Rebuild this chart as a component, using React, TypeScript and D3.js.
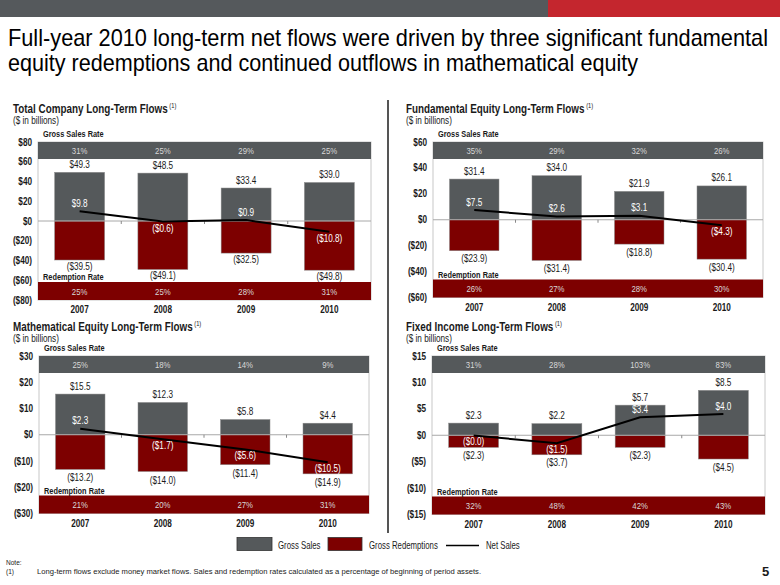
import React from 'react';
import * as d3 from 'd3';

// ---------- DATA ----------
const years = ['2007', '2008', '2009', '2010'];

const totalGross = [49.3, 48.5, 33.4, 39.0];
const totalRedemptions = [-39.5, -49.1, -32.5, -49.8];
const totalNet = [9.8, -0.6, 0.9, -10.8];
const totalGrossRate = ['31%', '25%', '29%', '25%'];
const totalRedRate = ['25%', '25%', '28%', '31%'];
const totalTicks = [80, 60, 40, 20, 0, -20, -40, -60, -80];

const fundGross = [31.4, 34.0, 21.9, 26.1];
const fundRedemptions = [-23.9, -31.4, -18.8, -30.4];
const fundNet = [7.5, 2.6, 3.1, -4.3];
const fundGrossRate = ['35%', '29%', '32%', '26%'];
const fundRedRate = ['26%', '27%', '28%', '30%'];
const fundTicks = [60, 40, 20, 0, -20, -40, -60];

const mathGross = [15.5, 12.3, 5.8, 4.4];
const mathRedemptions = [-13.2, -14.0, -11.4, -14.9];
const mathNet = [2.3, -1.7, -5.6, -10.5];
const mathGrossRate = ['25%', '18%', '14%', '9%'];
const mathRedRate = ['21%', '20%', '27%', '31%'];
const mathTicks = [30, 20, 10, 0, -10, -20, -30];

const fixedGross = [2.3, 2.2, 5.7, 8.5];
const fixedRedemptions = [-2.3, -3.7, -2.3, -4.5];
const fixedNet = [-0.04, -1.5, 3.4, 4.0];
const fixedGrossRate = ['31%', '28%', '103%', '83%'];
const fixedRedRate = ['32%', '48%', '42%', '43%'];
const fixedTicks = [15, 10, 5, 0, -5, -10, -15];

const titleLines = [
  'Full-year 2010 long-term net flows were driven by three significant fundamental',
  'equity redemptions and continued outflows in mathematical equity',
];
const legendLabels = ['Gross Sales', 'Gross Redemptions', 'Net Sales'];
const noteText =
  'Long-term flows exclude money market flows.  Sales and redemption rates calculated as a percentage of beginning of period assets.';

// ---------- STYLE ----------
const FONT = 'Liberation Sans, Arial, sans-serif';
const GRAY = '#55595b';
const RED = '#7d0000';
const SX = 0.82;

const fmtVal = (v: number) => (v >= 0 ? `$${v.toFixed(1)}` : `($${Math.abs(v).toFixed(1)})`);
const fmtTick = (v: number) => (v >= 0 ? `$${v}` : `($${Math.abs(v)})`);

function T(props: any) {
  const { x, y, children, anchor = 'start', size = 10, weight = 'normal', fill = '#1a1a1a', sx = SX, len } = props;
  return (
    <text
      transform={`translate(${x},${y}) scale(${sx},1)`}
      textAnchor={anchor}
      fontSize={size}
      fontWeight={weight}
      fill={fill}
      fontFamily={FONT}
      textLength={len}
      lengthAdjust={len ? 'spacingAndGlyphs' : undefined}
    >
      {children}
    </text>
  );
}

type PanelProps = {
  title: string;
  gross: number[];
  red: number[];
  net: number[];
  grossRate: string[];
  redRate: string[];
  ticks: number[];
  titleX: number;
  titleY: number;
  left: number;
  right: number;
  top: number;
  bottom: number;
  redOffset: number;
};

function Panel(p: PanelProps) {
  const x = d3.scaleBand<string>().domain(years).range([p.left, p.right]).paddingInner(0.4).paddingOuter(0.2);
  const ext = d3.extent(p.ticks) as [number, number];
  const y = d3.scaleLinear().domain(ext).range([p.bottom, p.top]);
  const step = x.step();
  const bw = x.bandwidth();
  const cx = (yr: string) => (x(yr) as number) + bw / 2;
  const topBandH = 17;
  const botBandH = 18;
  const y0 = y(0);
  const line = d3
    .line<number>()
    .x((_, i) => cx(years[i]))
    .y((d) => y(d));

  return (
    <g>
      <T x={p.titleX} y={p.titleY} size={13} weight="bold" sx={0.76}>
        {p.title}
        <tspan fontSize={7.5} fontWeight="normal" dy={-5}>
          {' '}(1)
        </tspan>
      </T>
      <T x={p.titleX} y={p.titleY + 11} size={10}>
        ($ in billions)
      </T>

      {/* frame */}
      <rect x={p.left} y={p.top} width={p.right - p.left} height={p.bottom - p.top} fill="#fff" stroke="#c8c8c8" strokeWidth={1} />

      {/* rate bands */}
      <rect x={p.left} y={p.top} width={p.right - p.left} height={topBandH} fill={GRAY} />
      <rect x={p.left} y={p.bottom - botBandH} width={p.right - p.left} height={botBandH} fill={RED} />
      <T x={p.left + 5} y={p.top - 5} size={9} weight="bold">
        Gross Sales Rate
      </T>
      <T x={p.left + 5} y={p.bottom - botBandH - 2} size={9} weight="bold">
        Redemption Rate
      </T>
      {years.map((yr, i) => (
        <g key={'r' + yr}>
          <T x={cx(yr)} y={p.top + topBandH / 2 + 3.5} anchor="middle" size={9.5} fill="#d8d8d8">
            {p.grossRate[i]}
          </T>
          <T x={cx(yr)} y={p.bottom - botBandH / 2 + 3.5} anchor="middle" size={9.5} fill="#d8d8d8">
            {p.redRate[i]}
          </T>
        </g>
      ))}

      {/* y axis labels */}
      {p.ticks.map((t) => (
        <T key={'t' + t} x={p.left - 6} y={y(t) + 3.5} anchor="end" size={10} weight="bold">
          {fmtTick(t)}
        </T>
      ))}

      {/* bars */}
      {years.map((yr, i) => (
        <g key={'b' + yr}>
          <rect x={x(yr)} y={y(p.gross[i])} width={bw} height={y0 - y(p.gross[i])} fill={GRAY} stroke="#8a8a8a" strokeWidth={0.5} />
          <rect x={x(yr)} y={y0} width={bw} height={y(p.red[i]) - y0} fill={RED} stroke="#8a8a8a" strokeWidth={0.5} />
        </g>
      ))}

      {/* zero line */}
      <line x1={p.left} x2={p.right} y1={y0} y2={y0} stroke="#a8a8a8" strokeWidth={1} />
      {years.slice(1).map((yr) => (
        <line key={'z' + yr} x1={(x(yr) as number) - (step - bw) / 2} x2={(x(yr) as number) - (step - bw) / 2} y1={y0} y2={y0 + 3} stroke="#888" strokeWidth={1} />
      ))}

      {/* net line */}
      <path d={line(p.net) || ''} fill="none" stroke="#000" strokeWidth={2} />

      {/* value labels */}
      {years.map((yr, i) => (
        <g key={'l' + yr}>
          <T x={cx(yr)} y={y(p.gross[i]) - 4.5} anchor="middle" size={10}>
            {fmtVal(p.gross[i])}
          </T>
          <T x={cx(yr)} y={y(p.red[i]) + p.redOffset} anchor="middle" size={10}>
            {fmtVal(p.red[i])}
          </T>
          <T x={cx(yr)} y={p.net[i] >= 0 ? y(p.net[i]) - 4.5 : y(p.net[i]) + 10} anchor="middle" size={10} fill="#fff">
            {fmtVal(p.net[i])}
          </T>
          <T x={cx(yr)} y={p.bottom + 13} anchor="middle" size={10} weight="bold">
            {yr}
          </T>
        </g>
      ))}
    </g>
  );
}

export default function App() {
  const TSX = 0.8;
  return (
    <svg width={780} height={585} style={{ position: 'absolute', left: 0, top: 0, background: '#fff' }}>
      <rect x={0} y={0} width={780} height={585} fill="#fff" />
      {/* header bar */}
      <rect x={0} y={0} width={548} height={17} fill="#55595c" />
      <rect x={548} y={0} width={232} height={17} fill="#c4262e" />

      <T x={8} y={46} size={23} fill="#000" sx={TSX} len={760 / TSX}>
        {titleLines[0]}
      </T>
      <T x={8} y={71} size={23} fill="#000" sx={TSX} len={630 / TSX}>
        {titleLines[1]}
      </T>

      {/* separator */}
      <line x1={388} x2={388} y1={100} y2={533} stroke="#555" strokeWidth={2} />

      <Panel
        title="Total Company Long-Term Flows"
        gross={totalGross}
        red={totalRedemptions}
        net={totalNet}
        grossRate={totalGrossRate}
        redRate={totalRedRate}
        ticks={totalTicks}
        titleX={13}
        titleY={113}
        left={38}
        right={371}
        top={142}
        bottom={300}
        redOffset={9.5}
      />
      <Panel
        title="Fundamental Equity Long-Term Flows"
        gross={fundGross}
        red={fundRedemptions}
        net={fundNet}
        grossRate={fundGrossRate}
        redRate={fundRedRate}
        ticks={fundTicks}
        titleX={406}
        titleY={113}
        left={433}
        right={763}
        top={142}
        bottom={297.5}
        redOffset={11.5}
      />
      <Panel
        title="Mathematical Equity Long-Term Flows"
        gross={mathGross}
        red={mathRedemptions}
        net={mathNet}
        grossRate={mathGrossRate}
        redRate={mathRedRate}
        ticks={mathTicks}
        titleX={13}
        titleY={331}
        left={39}
        right={369}
        top={356}
        bottom={513.5}
        redOffset={12}
      />
      <Panel
        title="Fixed Income Long-Term Flows"
        gross={fixedGross}
        red={fixedRedemptions}
        net={fixedNet}
        grossRate={fixedGrossRate}
        redRate={fixedRedRate}
        ticks={fixedTicks}
        titleX={406}
        titleY={331}
        left={432}
        right={765}
        top={356}
        bottom={514.5}
        redOffset={11.5}
      />

      {/* legend */}
      <rect x={237} y={537.5} width={35} height={13} fill={GRAY} stroke="#333" strokeWidth={0.8} />
      <T x={278} y={548.5} size={10} sx={0.78}>{legendLabels[0]}</T>
      <rect x={328} y={537.5} width={34} height={13} fill={RED} stroke="#333" strokeWidth={0.8} />
      <T x={369} y={548.5} size={10} sx={0.78}>{legendLabels[1]}</T>
      <line x1={446} x2={479} y1={545.5} y2={545.5} stroke="#000" strokeWidth={1.5} />
      <T x={486} y={548.5} size={10} sx={0.78}>{legendLabels[2]}</T>

      {/* note */}
      <T x={6} y={565} size={8}>Note:</T>
      <T x={6} y={574} size={8}>(1)</T>
      <T x={37} y={574} size={8} sx={0.85} len={444 / 0.85}>
        {noteText}
      </T>
      <T x={762} y={576} size={13} weight="bold" sx={1}>5</T>
    </svg>
  );
}
